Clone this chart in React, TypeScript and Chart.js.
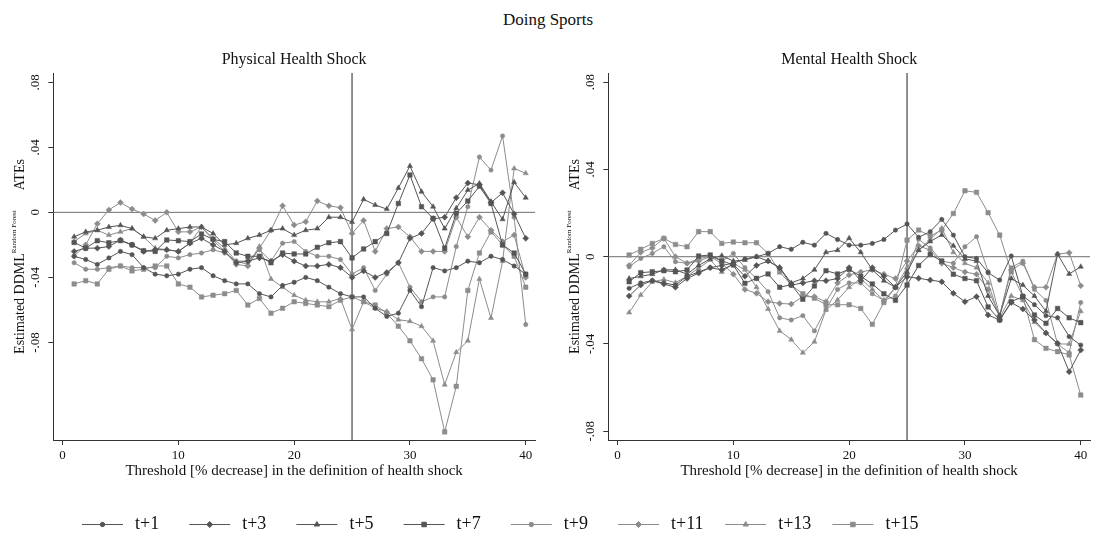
import React, { useEffect, useRef } from 'react';
import { Chart, registerables } from 'chart.js';
import { drawPoint } from 'chart.js/helpers';

Chart.register(...registerables);

// ---------------- data ----------------
const thresholds = [1, 2, 3, 4, 5, 6, 7, 8, 9, 10, 11, 12, 13, 14, 15, 16, 17, 18, 19, 20,
  21, 22, 23, 24, 25, 26, 27, 28, 29, 30, 31, 32, 33, 34, 35, 36, 37, 38, 39, 40];
const seriesLabels = ['t+1', 't+3', 't+5', 't+7', 't+9', 't+11', 't+13', 't+15'];
const xTicks = [0, 10, 20, 30, 40];
const yTicks = [-0.08, -0.04, 0, 0.04, 0.08];
const shockCutoff = 25;

// Physical Health Shock
const phys1 = [-0.027, -0.029, -0.032, -0.028, -0.024, -0.026, -0.034, -0.038, -0.039, -0.038,
  -0.035, -0.034, -0.039, -0.042, -0.044, -0.044, -0.050, -0.052, -0.045, -0.043,
  -0.040, -0.042, -0.046, -0.050, -0.052, -0.052, -0.059, -0.064, -0.062, -0.048,
  -0.058, -0.034, -0.036, -0.034, -0.030, -0.031, -0.027, -0.029, -0.033, -0.038];
const phys3 = [-0.024, -0.022, -0.022, -0.021, -0.017, -0.020, -0.024, -0.023, -0.023, -0.024,
  -0.019, -0.016, -0.020, -0.024, -0.031, -0.030, -0.028, -0.030, -0.026, -0.030,
  -0.033, -0.033, -0.032, -0.034, -0.040, -0.036, -0.040, -0.037, -0.031, -0.016,
  -0.013, -0.004, -0.003, 0.009, 0.018, 0.017, 0.006, 0.012, -0.001, -0.016];
const phys5 = [-0.015, -0.012, -0.011, -0.009, -0.008, -0.010, -0.015, -0.016, -0.011, -0.010,
  -0.009, -0.009, -0.013, -0.020, -0.019, -0.016, -0.014, -0.011, -0.010, -0.014,
  -0.011, -0.010, -0.003, -0.003, -0.006, 0.008, 0.0045, 0.002, 0.015, 0.0285,
  0.0127, 0.0035, -0.010, 0.0025, 0.0137, 0.0178, 0.0066, -0.0043, 0.0185, 0.009];
const phys7 = [-0.0185, -0.022, -0.0174, -0.0187, -0.0174, -0.020, -0.0236, -0.024, -0.017, -0.0174,
  -0.018, -0.0133, -0.0166, -0.018, -0.025, -0.027, -0.027, -0.031, -0.025, -0.0256,
  -0.0256, -0.0215, -0.0187, -0.018, -0.028, -0.0225, -0.018, -0.013, 0.0055, 0.023,
  0.0035, -0.0037, -0.022, -0.0006, 0.007, 0.016, 0.0055, -0.020, -0.025, -0.038];
const phys9 = [-0.031, -0.035, -0.035, -0.034, -0.033, -0.034, -0.034, -0.034, -0.027, -0.028,
  -0.026, -0.025, -0.023, -0.025, -0.030, -0.030, -0.023, -0.030, -0.019, -0.018,
  -0.024, -0.027, -0.027, -0.029, -0.038, -0.034, -0.048, -0.038, -0.031, -0.046,
  -0.055, -0.052, -0.052, -0.021, 0.0035, 0.034, 0.026, 0.047, -0.003, -0.069];
const phys11 = [-0.027, -0.020, -0.007, 0.0015, 0.006, 0.002, -0.001, -0.005, 0.000, -0.012,
  -0.012, -0.009, -0.017, -0.024, -0.032, -0.033, -0.022, -0.011, 0.004, -0.0078,
  -0.0058, 0.007, 0.004, 0.0029, -0.013, -0.005, -0.024, -0.010, -0.009, -0.015,
  -0.024, -0.024, -0.024, -0.003, -0.015, -0.003, -0.011, -0.018, -0.014, -0.040];
const phys13 = [-0.018, -0.013, -0.011, -0.014, -0.012, -0.010, -0.015, -0.022, -0.023, -0.024,
  -0.019, -0.009, -0.016, -0.022, -0.030, -0.032, -0.021, -0.041, -0.046, -0.051,
  -0.054, -0.055, -0.055, -0.053, -0.072, -0.055, -0.059, -0.061, -0.066, -0.067,
  -0.070, -0.079, -0.106, -0.086, -0.079, -0.041, -0.065, -0.030, 0.027, 0.024];
const phys15 = [-0.044, -0.042, -0.044, -0.035, -0.033, -0.036, -0.035, -0.033, -0.033, -0.044,
  -0.046, -0.052, -0.051, -0.050, -0.048, -0.057, -0.053, -0.062, -0.059, -0.055,
  -0.056, -0.057, -0.058, -0.054, -0.052, -0.055, -0.057, -0.062, -0.070, -0.079,
  -0.090, -0.103, -0.135, -0.107, -0.048, -0.025, -0.012, -0.020, -0.027, -0.046];

// Mental Health Shock
const ment1 = [-0.0145, -0.012, -0.011, -0.012, -0.013, -0.009, -0.007, -0.005, -0.004, -0.003,
  -0.001, 0.000, 0.0015, 0.0046, 0.0034, 0.0066, 0.0053, 0.0107, 0.0079, 0.0053,
  0.0053, 0.0061, 0.0079, 0.0122, 0.015, 0.0089, 0.0115, 0.0171, 0.0099, 0.000,
  -0.0008, -0.0073, -0.0107, 0.0003, -0.018, -0.022, -0.027, -0.028, -0.0366, -0.0405];
const ment3 = [-0.018, -0.013, -0.011, -0.0125, -0.014, -0.010, -0.0075, -0.005, -0.006, -0.0035,
  -0.009, -0.004, -0.002, -0.005, -0.013, -0.012, -0.011, -0.011, -0.010, -0.005,
  -0.011, -0.005, -0.009, -0.014, -0.0092, -0.0099, -0.0107, -0.0115, -0.0168, -0.0206,
  -0.0183, -0.0267, -0.029, -0.021, -0.024, -0.029, -0.035, -0.0397, -0.0527, -0.0428];
const ment5 = [-0.010, -0.009, -0.008, -0.006, -0.006, -0.008, -0.004, -0.001, 0.0005, -0.002,
  -0.0015, 0.000, -0.002, -0.005, -0.012, -0.010, -0.006, 0.002, 0.003, 0.0085,
  0.002, -0.006, -0.011, -0.014, -0.007, 0.003, 0.007, 0.010, 0.005, -0.001,
  -0.002, -0.018, -0.027, -0.010, -0.013, -0.018, -0.025, 0.0012, -0.0079, -0.0046];
const ment7 = [-0.0115, -0.0073, -0.0069, -0.0064, -0.0069, -0.0061, 0.0003, 0.0008, -0.0018, -0.0038,
  -0.0122, -0.0099, -0.0079, -0.014, -0.0128, -0.0195, -0.0134, -0.0064, -0.0079, -0.0058,
  -0.009, -0.0125, -0.017, -0.020, -0.013, -0.004, 0.001, -0.002, -0.008, -0.010,
  -0.011, -0.023, -0.029, -0.0206, -0.0183, -0.0267, -0.0305, -0.0237, -0.028, -0.0302];
const ment9 = [-0.0046, -0.0008, 0.0015, 0.0046, -0.0023, -0.003, -0.001, 0.0003, -0.002, 0.0015,
  -0.005, -0.010, -0.016, -0.028, -0.029, -0.027, -0.034, -0.024, -0.015, -0.012,
  -0.012, -0.017, -0.020, -0.018, -0.008, 0.008, 0.004, -0.002, -0.003, 0.0046,
  0.0092, -0.0069, -0.027, -0.005, -0.002, -0.015, -0.020, -0.040, -0.044, -0.021];
const ment11 = [-0.004, 0.002, 0.004, 0.0084, 0.000, -0.003, -0.002, 0.000, -0.003, -0.008,
  -0.015, -0.0168, -0.0206, -0.0214, -0.0217, -0.0183, -0.0183, -0.0206, -0.012, -0.0084,
  -0.007, -0.006, -0.008, -0.010, -0.002, 0.005, 0.003, -0.003, -0.005, -0.007,
  -0.008, -0.015, -0.027, -0.006, -0.003, -0.014, -0.014, 0.0012, 0.0018, -0.0133];
const ment13 = [-0.0256, -0.0176, -0.0115, -0.0104, -0.0119, -0.0089, -0.0053, -0.0015, -0.007, -0.003,
  -0.006, -0.014, -0.024, -0.034, -0.038, -0.044, -0.039, -0.0244, -0.0198, -0.014,
  -0.010, -0.015, -0.020, -0.014, -0.005, 0.003, 0.008, 0.013, 0.002, -0.003,
  -0.005, -0.012, -0.028, -0.018, -0.020, -0.030, -0.035, -0.040, -0.040, -0.025];
const ment15 = [0.0008, 0.0034, 0.0061, 0.0084, 0.0056, 0.0046, 0.0115, 0.0115, 0.0061, 0.0067,
  0.0064, 0.0064, 0.0015, -0.007, -0.013, -0.017, -0.019, -0.022, -0.022, -0.022,
  -0.0237, -0.031, -0.021, -0.014, 0.0076, 0.0122, 0.0095, 0.0122, 0.0198, 0.0302,
  0.0295, 0.0202, 0.0099, -0.0069, -0.0183, -0.038, -0.042, -0.0435, -0.045, -0.0634];

const physicalSeries = [phys1, phys3, phys5, phys7, phys9, phys11, phys13, phys15];
const mentalSeries = [ment1, ment3, ment5, ment7, ment9, ment11, ment13, ment15];

// ---------------- styles ----------------
const FONT = "'Liberation Serif', 'Times New Roman', Times, serif";
const DARK = '#555555';
const LIGHT = '#8c8c8c';
const seriesColors = [DARK, DARK, DARK, DARK, LIGHT, LIGHT, LIGHT, LIGHT];
const pointStyles = ['circle', 'rectRot', 'triangle', 'rect', 'circle', 'rectRot', 'triangle', 'rect'];
const pointRadii = [2.2, 3, 3, 3.2, 2.2, 3, 3, 3.2];

const stataFmt = (v: number) => {
  if (Math.abs(v) < 1e-9) return '0';
  const s = Math.abs(v).toFixed(2).replace(/^0/, '');
  return (v < 0 ? '-' : '') + s;
};

const panelDecor = {
  id: 'panelDecor',
  beforeDatasetsDraw(chart: any, _a: any, opts: any) {
    const { ctx, chartArea, scales } = chart;
    const y0 = scales.y.getPixelForValue(0);
    const xv = scales.x.getPixelForValue(opts.vline);
    ctx.save();
    ctx.lineWidth = 1;
    ctx.strokeStyle = '#6e6e6e';
    ctx.beginPath();
    ctx.moveTo(chartArea.left, y0);
    ctx.lineTo(chartArea.right, y0);
    ctx.stroke();
    ctx.strokeStyle = '#222222';
    ctx.beginPath();
    ctx.moveTo(xv, chartArea.top);
    ctx.lineTo(xv, chartArea.bottom);
    ctx.stroke();
    ctx.restore();
  },
  afterDraw(chart: any, _a: any, opts: any) {
    const { ctx, chartArea } = chart;
    const cx = (chartArea.left + chartArea.right) / 2;
    const cy = (chartArea.top + chartArea.bottom) / 2;
    ctx.save();
    ctx.fillStyle = '#111111';
    ctx.textBaseline = 'middle';
    ctx.textAlign = 'center';
    // subtitle
    ctx.font = `16px ${FONT}`;
    ctx.fillText(opts.subtitle, cx, 60);
    // x title
    ctx.font = `15px ${FONT}`;
    ctx.fillText(opts.xTitle, cx, 471);
    // y title with superscript
    ctx.translate(chartArea.left - 33, cy);
    ctx.rotate(-Math.PI / 2);
    ctx.textAlign = 'left';
    const mainFont = `14px ${FONT}`;
    const supFont = `7px ${FONT}`;
    ctx.font = mainFont;
    const w1 = ctx.measureText(opts.yMain).width;
    const w3 = ctx.measureText(opts.yEnd).width;
    ctx.font = supFont;
    const w2 = ctx.measureText(opts.ySup).width;
    const gap = 20;
    const total = w1 + w2 + gap + w3;
    let x = -total / 2;
    ctx.font = mainFont;
    ctx.fillText(opts.yMain, x, 0);
    x += w1;
    ctx.font = supFont;
    ctx.fillText(opts.ySup, x, -6);
    x += w2 + gap;
    ctx.font = mainFont;
    ctx.fillText(opts.yEnd, x, 0);
    ctx.restore();
  },
};

const legendPlugin = {
  id: 'customLegend',
  afterDraw(chart: any) {
    const { ctx } = chart;
    const y = 24;
    ctx.save();
    chart.data.datasets.forEach((ds: any, i: number) => {
      const x0 = 82 + i * 107.2;
      ctx.strokeStyle = ds.borderColor;
      ctx.fillStyle = ds.borderColor;
      ctx.lineWidth = 1;
      ctx.beginPath();
      ctx.moveTo(x0, y + 0.5);
      ctx.lineTo(x0 + 41, y + 0.5);
      ctx.stroke();
      drawPoint(ctx, { pointStyle: ds.pointStyle, radius: ds.pointRadius, borderWidth: 0.5, rotation: 0 } as any, x0 + 20.5, y + 0.5);
      ctx.fillStyle = '#111111';
      ctx.font = `18px ${FONT}`;
      ctx.textAlign = 'left';
      ctx.textBaseline = 'middle';
      ctx.fillText(ds.label, x0 + 53, y);
    });
    ctx.restore();
  },
};

function buildDatasets(series: number[][]) {
  return series.map((vals, i) => ({
    label: seriesLabels[i],
    data: thresholds.map((t, j) => ({ x: t, y: vals[j] })),
    borderColor: seriesColors[i],
    backgroundColor: seriesColors[i],
    pointBackgroundColor: seriesColors[i],
    pointBorderColor: seriesColors[i],
    pointStyle: pointStyles[i],
    pointRadius: pointRadii[i],
    pointBorderWidth: 0.5,
    borderWidth: 1,
    tension: 0,
  }));
}

function panelConfig(series: number[][], yMin: number, yMax: number, yWidth: number, rightPad: number, subtitle: string): any {
  const axisColor = '#333333';
  const tickFont = { family: FONT, size: 13 };
  return {
    type: 'line',
    data: { datasets: buildDatasets(series) },
    options: {
      animation: false,
      responsive: false,
      events: [],
      layout: { padding: { top: 73, right: rightPad, bottom: 0, left: 0 } },
      plugins: {
        legend: { display: false },
        tooltip: { enabled: false },
        panelDecor: {
          vline: shockCutoff,
          subtitle,
          xTitle: 'Threshold [% decrease] in the definition of health shock',
          yMain: 'Estimated DDML',
          ySup: 'Random Forest',
          yEnd: 'ATEs',
        },
      },
      scales: {
        x: {
          type: 'linear',
          min: -0.8,
          max: 40.8,
          afterBuildTicks: (s: any) => { s.ticks = xTicks.map((v) => ({ value: v })); },
          afterFit: (s: any) => { s.height = 60; },
          grid: { drawOnChartArea: false, drawTicks: true, tickLength: 5, tickColor: axisColor, tickWidth: 1 },
          border: { display: true, color: axisColor, width: 1 },
          ticks: { font: tickFont, color: '#111111', padding: 3, maxRotation: 0, autoSkip: false, callback: (v: any) => String(v) },
        },
        y: {
          type: 'linear',
          min: yMin,
          max: yMax,
          afterBuildTicks: (s: any) => { s.ticks = yTicks.map((v) => ({ value: v })); },
          afterFit: (s: any) => { s.width = yWidth; },
          grid: { drawOnChartArea: false, drawTicks: true, tickLength: 5, tickColor: axisColor, tickWidth: 1 },
          border: { display: true, color: axisColor, width: 1 },
          ticks: { font: tickFont, color: '#111111', padding: 2, minRotation: 90, maxRotation: 90, crossAlign: 'center', autoSkip: false, callback: (v: any) => stataFmt(Number(v)) },
        },
      },
    },
    plugins: [panelDecor],
  };
}

export default function App() {
  const leftRef = useRef<HTMLCanvasElement>(null);
  const rightRef = useRef<HTMLCanvasElement>(null);
  const legendRef = useRef<HTMLCanvasElement>(null);

  useEffect(() => {
    const charts: Chart[] = [];
    if (leftRef.current) {
      charts.push(new Chart(leftRef.current, panelConfig(physicalSeries, -0.140, 0.0857, 53.3, 13, 'Physical Health Shock')));
    }
    if (rightRef.current) {
      charts.push(new Chart(rightRef.current, panelConfig(mentalSeries, -0.084, 0.0842, 60.3, 6, 'Mental Health Shock')));
    }
    if (legendRef.current) {
      charts.push(new Chart(legendRef.current, {
        type: 'line',
        data: { datasets: buildDatasets(physicalSeries).map((d) => ({ ...d, data: [] })) },
        options: {
          animation: false,
          responsive: false,
          events: [],
          plugins: { legend: { display: false }, tooltip: { enabled: false } },
          scales: { x: { display: false }, y: { display: false } },
        },
        plugins: [legendPlugin],
      } as any));
    }
    return () => { charts.forEach((c) => c.destroy()); };
  }, []);

  return (
    <div style={{ position: 'absolute', left: 0, top: 0, width: 1096, height: 539, background: '#ffffff', overflow: 'hidden' }}>
      <div style={{ position: 'absolute', left: 0, top: 9, width: 1096, textAlign: 'center', fontFamily: FONT, fontSize: 17, lineHeight: '22px', color: '#111111' }}>
        Doing Sports
      </div>
      <canvas ref={leftRef} width={548} height={500} style={{ position: 'absolute', left: 0, top: 0, width: 548, height: 500 }} />
      <canvas ref={rightRef} width={548} height={500} style={{ position: 'absolute', left: 548, top: 0, width: 548, height: 500 }} />
      <canvas ref={legendRef} width={1096} height={39} style={{ position: 'absolute', left: 0, top: 500, width: 1096, height: 39 }} />
    </div>
  );
}
